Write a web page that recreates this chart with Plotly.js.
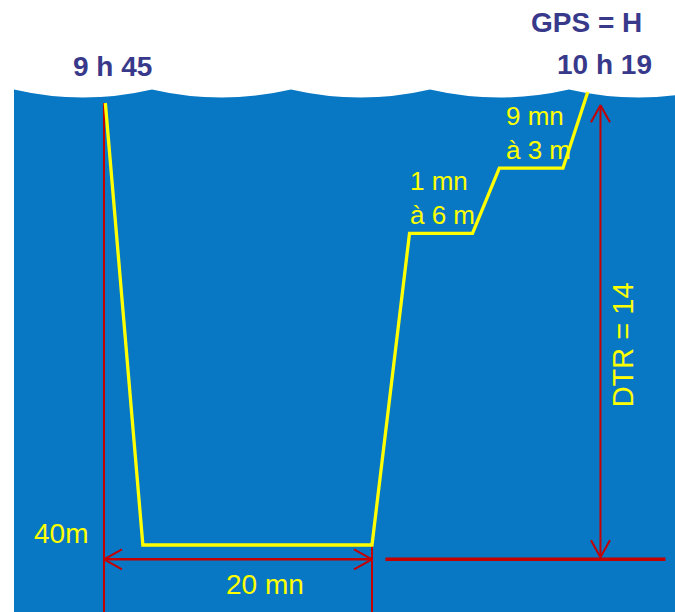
<!DOCTYPE html>
<html>
<head>
<meta charset="utf-8">
<script src="https://cdn.plot.ly/plotly-3.0.1.min.js"></script>
<style>html,body{margin:0;padding:0;background:#fff;}#chart{width:675px;height:612px;}</style>
</head>
<body>
<div id="chart"></div>
<script>
// ---- data (schematic dive profile, time in minutes, depth in schematic units) ----
const profileTime  = [0.1, 2.9, 20, 22.8, 27.5, 29.5, 34.25, 36.1];
const profileDepth = [0, 40, 40, 11.8, 11.8, 5.9, 5.9, -1.0];
const startTime = 0;
const bottomEndTime = 20;
const bottomDepth = 40;
const dimLineDepth = 41.3;           // depth of the "20 mn" dimension line
const dtrTime = 37.05;                // position of the DTR arrow
const dtrTop = 0.2, dtrBottom = 41.1;
const refLineTime = [21.0, 41.9];     // right-hand red reference line
const labelStart = "9 h 45", labelEnd = "10 h 19", labelGps = "GPS = H";
const labelDepth = "40m", labelBottomTime = "20 mn", labelDtr = "DTR = 14";
const stopLabels = ["1 mn<br>à 6 m", "9 mn<br>à 3 m"];
const stopLabelTime = [22.7, 29.85];
const stopLabelDepth = [8.6, 2.75];

// ---- scales ----
const W = 675, H = 612;
const xPerPx = 1 / 13.4, yPerPx = 1 / 11.05;
const xRange = [-104 * xPerPx, (W - 104) * xPerPx];
const yRange = [(H - 103) * yPerPx, -103 * yPerPx];  // reversed (depth)
const yMax = yRange[0];

const RED = '#c40000', YEL = '#ffff00', NAVY = '#38398a', BLUE = '#0877c4';

function line(x, y, color, w) {
  return {type: 'scatter', mode: 'lines', x: x, y: y, hoverinfo: 'skip',
          line: {color: color, width: w}};
}
// open chevron arrowhead at tip (x,y); L = length, h = half-width (pixels)
function chevron(x, y, dir, L, h) {
  let xs, ys;
  if (dir === 'left')  { xs = [x + L * xPerPx, x, x + L * xPerPx]; ys = [y - h * yPerPx, y, y + h * yPerPx]; }
  if (dir === 'right') { xs = [x - L * xPerPx, x, x - L * xPerPx]; ys = [y - h * yPerPx, y, y + h * yPerPx]; }
  if (dir === 'up')    { xs = [x - h * xPerPx, x, x + h * xPerPx]; ys = [y + L * yPerPx, y, y + L * yPerPx]; }
  if (dir === 'down')  { xs = [x - h * xPerPx, x, x + h * xPerPx]; ys = [y - L * yPerPx, y, y - L * yPerPx]; }
  return line(xs, ys, RED, 2);
}

const traces = [
  line([startTime, startTime], [0, yMax], RED, 2),
  line([bottomEndTime, bottomEndTime], [bottomDepth, yMax], RED, 2),
  line([startTime, bottomEndTime], [dimLineDepth, dimLineDepth], RED, 2.5),
  chevron(startTime, dimLineDepth, 'left', 18, 10),
  chevron(bottomEndTime, dimLineDepth, 'right', 18, 10),
  line(refLineTime, [dimLineDepth, dimLineDepth], RED, 3.5),
  line([dtrTime, dtrTime], [dtrTop, dtrBottom], RED, 2),
  chevron(dtrTime, dtrTop, 'up', 17, 9.5),
  chevron(dtrTime, dtrBottom, 'down', 17, 9.5),
  line(profileTime, profileDepth, YEL, 3.3)
];

// ---- water background with wavy surface (paper coords) ----
const px = v => (v / W).toFixed(5), py = v => (1 - v / H).toFixed(5);
const cusps = [14, 152, 291, 430, 569, 708];
const cuspY = 89.5, troughY = 97.5, ctrlY = 2 * troughY - cuspY;
let path = `M${px(14)},${py(H)} L${px(14)},${py(cuspY)}`;
for (let i = 0; i < cusps.length - 1; i++) {
  const a = cusps[i], b = cusps[i + 1];
  path += ` Q${px((a + b) / 2)},${py(ctrlY)} ${px(b)},${py(cuspY)}`;
}
path += ` L${px(708)},${py(H)} Z`;

const shapes = [{type: 'path', xref: 'paper', yref: 'paper', path: path,
                 fillcolor: BLUE, line: {width: 0}, layer: 'below'}];

const fontB = {family: '"Liberation Sans", Arial, sans-serif', size: 28, color: NAVY, weight: 'bold'};
const fontY = (s) => ({family: '"Liberation Sans", Arial, sans-serif', size: s, color: YEL});

function ann(text, x, y, font, extra) {
  return Object.assign({text: text, x: x, y: y, xref: 'x', yref: 'y', showarrow: false,
                        font: font, xanchor: 'center', yanchor: 'middle'}, extra || {});
}
const annotations = [
  ann('<b>' + labelStart + '</b>', 0.6, -3.3, fontB),
  ann('<b>' + labelEnd + '</b>', 37.35, -3.5, fontB),
  ann('<b>' + labelGps + '</b>', 35.97, -7.3, fontB),
  ann(labelDepth, -3.2, 39.0, fontY(28)),
  ann(labelBottomTime, 12.05, 43.6, fontY(28)),
  ann(labelDtr, 38.8, 21.85, fontY(29), {textangle: -90}),
  ann(stopLabels[0], stopLabelTime[0], stopLabelDepth[0], fontY(26), {xanchor: 'left', align: 'left'}),
  ann(stopLabels[1], stopLabelTime[1], stopLabelDepth[1], fontY(26), {xanchor: 'left', align: 'left'})
];

const layout = {
  width: W, height: H, margin: {l: 0, r: 0, t: 0, b: 0, pad: 0},
  paper_bgcolor: '#ffffff', plot_bgcolor: 'rgba(0,0,0,0)',
  showlegend: false,
  xaxis: {range: xRange, visible: false, fixedrange: true},
  yaxis: {range: yRange, visible: false, fixedrange: true},
  shapes: shapes, annotations: annotations
};
Plotly.newPlot('chart', traces, layout, {displayModeBar: false, staticPlot: true});
</script>
</body>
</html>
